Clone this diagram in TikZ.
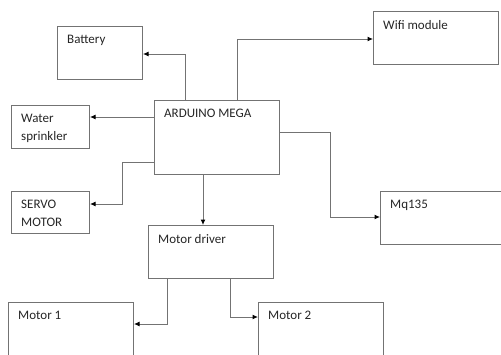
\documentclass[tikz,border=0pt]{standalone}
\usepackage{fontspec}
\setmainfont{Carlito}
\usetikzlibrary{arrows.meta}

\tikzset{
  blk/.style={draw=black!55, line width=1pt, anchor=north west, inner sep=0pt},
  lbl/.style={anchor=north west, inner sep=0pt, xshift=10pt, yshift=-9pt,
    align=left, text=black!85, font=\fontsize{13}{18}\selectfont},
  arr/.style={draw=black!55, line width=1pt, -{Latex[length=5.5pt,width=5pt,color=black]}}
}

\begin{document}
\begin{tikzpicture}[x=1pt, y=-1pt]
    \useasboundingbox (0,0) rectangle (501,354);
    % blocks
    \node[blk, minimum width=85pt, minimum height=53pt, label={[lbl]north west:Battery}] (bat) at (57,26) {};
    \node[blk, minimum width=125pt, minimum height=53pt, label={[lbl]north west:Wifi module}] (wifi) at (373,11) {};
    \node[blk, minimum width=78pt, minimum height=43pt, label={[lbl]north west:Water\\sprinkler}] (wat) at (11,105) {};
    \node[blk, minimum width=125pt, minimum height=74pt, label={[lbl]north west:ARDUINO MEGA}] (ard) at (154,100) {};
    \node[blk, minimum width=78pt, minimum height=42pt, label={[lbl]north west:SERVO\\MOTOR}] (srv) at (11,191) {};
    \node[blk, minimum width=125pt, minimum height=53pt, label={[lbl]north west:Mq135}] (mq) at (380,191) {};
    \node[blk, minimum width=125pt, minimum height=53pt, label={[lbl]north west:Motor driver}] (drv) at (148,225) {};
    \node[blk, minimum width=125pt, minimum height=70pt, label={[lbl]north west:Motor 1}] (m1) at (8,302) {};
    \node[blk, minimum width=125pt, minimum height=70pt, label={[lbl]north west:Motor 2}] (m2) at (258,302) {};
    % connections
    \draw[arr] (ard.north -| 185,0) |- (bat.east |- 0,54);
    \draw[arr] (ard.north -| 237,0) |- (wifi.west |- 0,39);
    \draw[arr] (ard.west |- 0,117) -- (wat.east |- 0,117);
    \draw[arr] (ard.west |- 0,162) -| (122,204) -- (srv.east |- 0,204);
    \draw[arr] (ard.east |- 0,132) -| (330,217) -- (mq.west |- 0,217);
    \draw[arr] (ard.south -| 203,0) -- (drv.north -| 203,0);
    \draw[arr] (drv.south -| 167,0) |- (m1.east |- 0,324);
    \draw[arr] (drv.south -| 230,0) |- (m2.west |- 0,317);
\end{tikzpicture}
\end{document}
